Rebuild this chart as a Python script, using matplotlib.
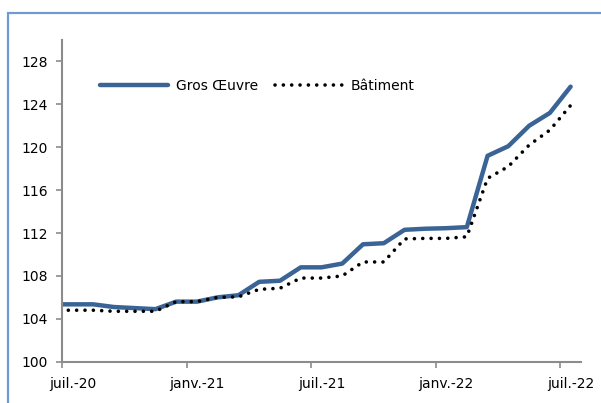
import matplotlib
matplotlib.use("Agg")
import matplotlib.pyplot as plt
import numpy as np
from matplotlib.patches import Rectangle

# Monthly data, from mid-June 2020 to mid-July 2022 (positions at mid-month)
gros_oeuvre = [105.35, 105.35, 105.35, 105.1, 105.0, 104.9, 105.6, 105.6, 106.0, 106.2,
               107.45, 107.55, 108.8, 108.8, 109.15, 110.95, 111.05, 112.3, 112.4, 112.45,
               112.55, 119.2, 120.1, 122.0, 123.2, 125.65]
batiment = [104.8, 104.8, 104.8, 104.7, 104.7, 104.7, 105.6, 105.6, 106.0, 106.05,
            106.75, 106.85, 107.8, 107.8, 108.0, 109.3, 109.3, 111.45, 111.5, 111.5,
            111.65, 117.1, 118.2, 120.2, 121.6, 123.9]
tick_labels = ["juil.-20", "janv.-21", "juil.-21", "janv.-22", "juil.-22"]
tick_months = [0, 6, 12, 18, 24]
y_ticks = [100, 104, 108, 112, 116, 120, 124, 128]

W, H = 601, 403
fig = plt.figure(figsize=(W / 100, H / 100), dpi=100)
ax = fig.add_axes([62 / W, 1 - 361.7 / H, 519 / W, 321.7 / H])

x = np.arange(len(gros_oeuvre)) - 0.5
blue = "#3b6496"
ax.plot(x, gros_oeuvre, color=blue, lw=3.2, solid_capstyle="round",
        solid_joinstyle="round", label="Gros Œuvre")
ax.plot(x, batiment, color="black", lw=2.6, linestyle=(0, (0.01, 2.3)),
        dash_capstyle="round", label="Bâtiment")

ax.set_xlim(0, 25)
ax.set_ylim(100, 130)

grey = "#8c8c8c"
for s in ["top", "right"]:
    ax.spines[s].set_visible(False)
for s in ["left", "bottom"]:
    ax.spines[s].set_color(grey)
    ax.spines[s].set_linewidth(1.5)

ax.set_yticks(y_ticks)
ax.set_yticklabels([str(v) for v in y_ticks])
ax.tick_params(axis="y", direction="out", length=4, width=1.2, color=grey,
               labelsize=10, pad=6, labelcolor="black")

ax.set_xticks(tick_months)
ax.set_xticklabels([])
ax.set_xticks([m + 0.5 for m in tick_months], minor=True)
ax.set_xticklabels(tick_labels, minor=True)
ax.tick_params(axis="x", which="major", direction="out", length=4, width=1.2, color=grey)
ax.tick_params(axis="x", which="minor", length=0, labelsize=10, pad=11)

leg = ax.legend(loc="center left", bbox_to_anchor=(0.073, 0.857), ncol=2,
                frameon=False, fontsize=10, borderpad=0, borderaxespad=0,
                handlelength=4.9, handletextpad=0.55, columnspacing=1.25)

# outer frame of the chart area (cropped at right and bottom)
fig.patches.append(Rectangle((7.5 / W, -0.1), 1.2, (1 - 12.5 / H) + 0.1,
                             transform=fig.transFigure, fill=False,
                             edgecolor="#6e9bd6", lw=1.6))

fig.savefig("out.png", dpi=100)
